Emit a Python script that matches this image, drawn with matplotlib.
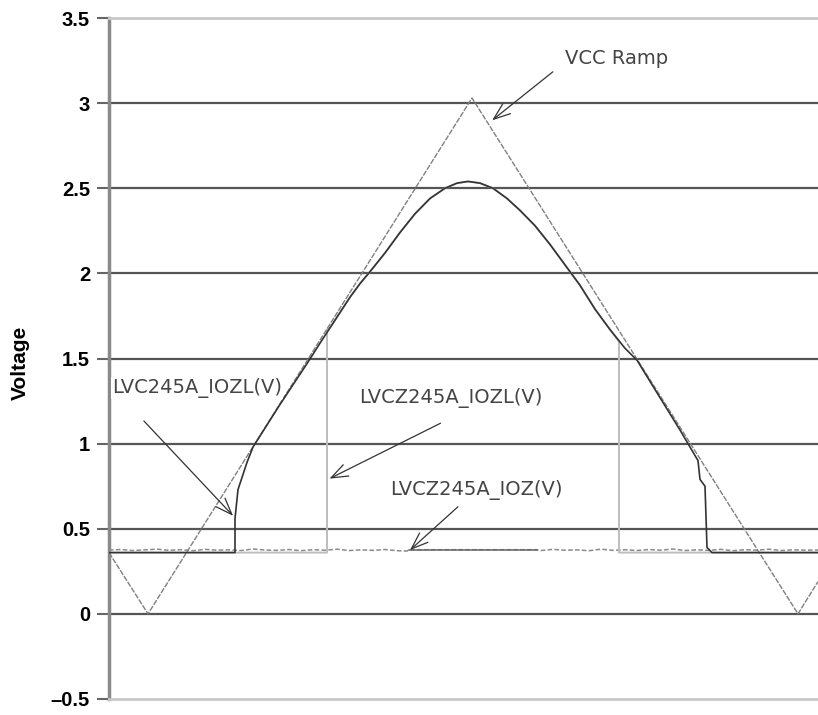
import matplotlib
matplotlib.use("Agg")
import matplotlib.pyplot as plt
import numpy as np

# time axis in arbitrary sample units (0 .. 709)
vcc_t = [0, 39, 363, 689, 709]
vcc_v = [0.36, 0.0, 3.03, 0.0, 0.19]

lvc_t = [0, 126, 126, 129, 138, 144, 171, 198, 211, 221, 231, 241, 251, 261, 276, 291, 306, 321,
         336, 348, 359, 371, 384, 398, 411, 426, 441, 456, 471, 486, 501, 516, 528, 551, 571,
         589, 591, 596, 598, 603, 709]
lvc_v = [0.36, 0.36, 0.56, 0.73, 0.89, 0.98, 1.23, 1.47, 1.59, 1.68, 1.77, 1.86, 1.94, 2.01, 2.12,
         2.24, 2.35, 2.44, 2.50, 2.53, 2.54, 2.53, 2.50, 2.44, 2.37, 2.28, 2.17, 2.05, 1.93, 1.79,
         1.67, 1.56, 1.49, 1.27, 1.08, 0.90, 0.79, 0.75, 0.39, 0.36, 0.36]

lvcz_t = [0, 218, 218, 221, 231, 241, 251, 261, 276, 291, 306, 321, 336, 348, 359, 371, 384, 398,
          411, 426, 441, 456, 471, 486, 501, 510, 510, 709]
lvcz_v = [0.36, 0.36, 1.67, 1.68, 1.77, 1.86, 1.94, 2.01, 2.12, 2.24, 2.35, 2.44, 2.50, 2.53, 2.54,
          2.53, 2.50, 2.44, 2.37, 2.28, 2.17, 2.05, 1.93, 1.79, 1.67, 1.60, 0.36, 0.36]

ioz_t = [0, 12, 24, 36, 48, 60, 72, 84, 96, 108, 120, 132, 144, 156, 168, 180, 192, 204, 216, 228,
         240, 252, 264, 276, 288, 298, 300, 428, 432, 444, 456, 468, 480, 492, 504, 516, 528, 540,
         552, 564, 576, 588, 600, 612, 624, 636, 648, 660, 672, 684, 696, 709]
ioz_v = [0.375, 0.378, 0.372, 0.376, 0.380, 0.373, 0.377, 0.371, 0.379, 0.374, 0.376, 0.372, 0.381, 0.375,
         0.373, 0.378, 0.371, 0.377, 0.374, 0.380, 0.372, 0.376, 0.373, 0.378, 0.371, 0.369, 0.377, 0.377,
         0.372, 0.379, 0.374, 0.376, 0.371, 0.380, 0.373, 0.377, 0.372, 0.378, 0.374, 0.381, 0.372, 0.376,
         0.373, 0.379, 0.371, 0.377, 0.374, 0.380, 0.372, 0.376, 0.374, 0.375]

yticks = [-0.5, 0, 0.5, 1, 1.5, 2, 2.5, 3, 3.5]
ytick_labels = ['\u20130.5', '0', '0.5', '1', '1.5', '2', '2.5', '3', '3.5']

fig = plt.figure(figsize=(8.18, 7.15), dpi=100)
ax = fig.add_axes([109/818, 1-699/715, 1-109/818, (699-18)/715])
ax.set_xlim(0, 709)
ax.set_ylim(-0.5, 3.5)

# grid
ax.set_yticks(yticks)
ax.set_yticklabels(ytick_labels, fontfamily='Liberation Sans', fontweight='bold', fontsize=14.5)
ax.yaxis.grid(True, color='#555555', lw=1.6)
gl = ax.get_ygridlines()
gl[0].set_visible(False)
gl[-1].set_visible(False)
ax.set_axisbelow(True)
ax.tick_params(axis='y', direction='out', length=8.6, width=1.5, color='#666666', pad=5)
ax.set_xticks([])
for s in ['top', 'bottom']:
    ax.spines[s].set_color('#c8c8c8')
    ax.spines[s].set_linewidth(2)
ax.spines['right'].set_visible(False)
ax.spines['left'].set_color('#8a8a8a')
ax.spines['left'].set_linewidth(2.5)

# traces
ax.plot(ioz_t, ioz_v, color='#8a8a8a', lw=1.1, ls=(0, (3, 1.5)), zorder=3)
i0, i1 = ioz_t.index(300), ioz_t.index(428)
ax.plot(ioz_t[i0:i1+1], ioz_v[i0:i1+1], color='#666666', lw=1.1, zorder=3)
ax.plot(lvcz_t, lvcz_v, color='#bdbdbd', lw=1.4, zorder=3)
ax.plot(vcc_t, vcc_v, color='#808080', lw=1.0, ls=(0, (4, 1)), zorder=4)
ax.plot(lvc_t, lvc_v, color='#333333', lw=1.2, zorder=5)

# annotations
def ann(text, xy, xytext, txt):
    ax.annotate('', xy=xy, xytext=xytext,
                arrowprops=dict(arrowstyle='->,head_length=1.2,head_width=0.45',
                                color='#333333', lw=0.9), zorder=6)
    ax.text(txt[0], txt[1], text, ha='left', va='center', fontsize=14,
            color='#444444', fontfamily='DejaVu Sans',
            bbox=dict(fc='white', ec='none', pad=1), zorder=6)

ann('VCC Ramp', (381, 2.889), (446, 3.194), (456, 3.265))
ann('LVC245A_IOZL(V)', (126, 0.564), (33, 1.145), (3, 1.327))
ann('LVCZ245A_IOZL(V)', (218, 0.787), (334, 1.127), (250, 1.268))
ann('LVCZ245A_IOZ(V)', (299, 0.364), (351, 0.64), (281, 0.728))

fig.text(20/818, 1-363/715, 'Voltage', rotation=90, ha='center', va='center',
         fontfamily='Liberation Sans', fontweight='bold', fontsize=15)

fig.savefig('out.png', dpi=100)
